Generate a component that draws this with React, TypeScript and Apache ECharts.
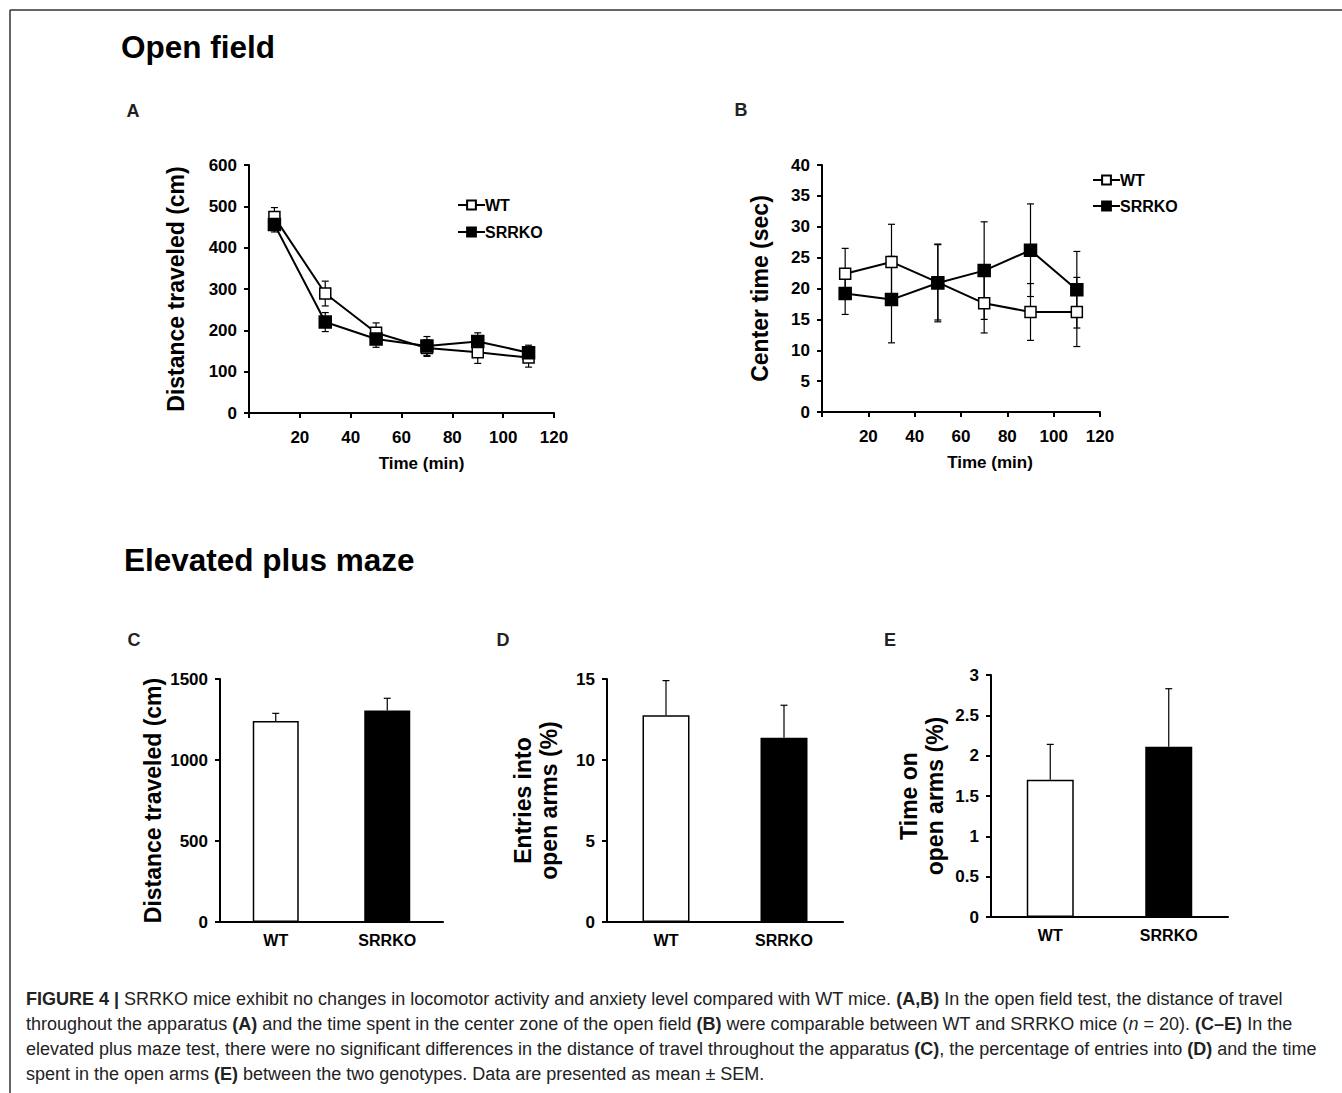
import React, { useEffect, useRef } from "react";
import * as echarts from "echarts";

// ---- Data ----
const timeMin = [10, 30, 50, 70, 90, 110];
const distWT = [474, 289, 194, 157, 147, 134];
const distWTsem = [23, 30, 24, 20, 27, 23];
const distKO = [456, 220, 179, 162, 173, 146];
const distKOsem = [18, 23, 20, 23, 21, 18];

const centerWT = [22.4, 24.3, 21.0, 17.6, 16.2, 16.2];
const centerWTsem = [4.1, 6.1, 6.1, 4.8, 4.6, 5.6];
const centerKO = [19.2, 18.2, 20.9, 22.9, 26.2, 19.8];
const centerKOsem = [3.4, 7.0, 6.3, 7.9, 7.5, 6.2];

const genotypes = ["WT", "SRRKO"];
const epmDist = [1241, 1305];
const epmDistSem = [47, 76];
const epmEntries = [12.76, 11.38];
const epmEntriesSem = [2.14, 2.0];
const epmTime = [1.7, 2.11];
const epmTimeSem = [0.44, 0.72];

const captionLines = [
  "{b|FIGURE 4 |} SRRKO mice exhibit no changes in locomotor activity and anxiety level compared with WT mice. {b|(A,B)} In the open field test, the distance of travel",
  "throughout the apparatus {b|(A)} and the time spent in the center zone of the open field {b|(B)} were comparable between WT and SRRKO mice ({i|n} = 20). {b|(C–E)} In the",
  "elevated plus maze test, there were no significant differences in the distance of travel throughout the apparatus {b|(C)}, the percentage of entries into {b|(D)} and the time",
  "spent in the open arms {b|(E)} between the two genotypes. Data are presented as mean ± SEM.",
];

const FONT = "Liberation Sans, Arial, Helvetica, sans-serif";
const CAP = 18;

function App() {
  const ref = useRef<HTMLDivElement>(null);

  useEffect(() => {
    if (!ref.current) return;
    const chart = echarts.init(ref.current, null, { renderer: "svg" });

    const axisLine = { lineStyle: { color: "#000", width: 2 } };
    const axisTick = { length: 5, lineStyle: { color: "#000", width: 2 } };
    const tickLabel = { fontSize: 17, fontWeight: "bold", color: "#000", fontFamily: FONT };
    const nameStyle = (size: number, extra: any = {}) => ({
      fontSize: size,
      fontWeight: "bold",
      color: "#000",
      fontFamily: FONT,
      lineHeight: 26,
      ...extra,
    });

    const lineErr = (gridIdx: number, means: number[], sems: number[]) => ({
      type: "custom",
      xAxisIndex: gridIdx,
      yAxisIndex: gridIdx,
      z: 1,
      silent: true,
      data: timeMin.map((t, i) => [t, means[i] - sems[i], means[i] + sems[i]]),
      encode: { x: 0, y: [1, 2] },
      renderItem: (params: any, api: any) => {
        const x = api.value(0);
        const lo = api.coord([x, api.value(1)]);
        const hi = api.coord([x, api.value(2)]);
        const hw = 3.5;
        const st = { stroke: "#000", lineWidth: 1.2 };
        return {
          type: "group",
          children: [
            { type: "line", shape: { x1: lo[0], y1: lo[1], x2: hi[0], y2: hi[1] }, style: st },
            { type: "line", shape: { x1: hi[0] - hw, y1: hi[1], x2: hi[0] + hw, y2: hi[1] }, style: st },
            { type: "line", shape: { x1: lo[0] - hw, y1: lo[1], x2: lo[0] + hw, y2: lo[1] }, style: st },
          ],
        };
      },
    });

    const barErr = (gridIdx: number, means: number[], sems: number[]) => ({
      type: "custom",
      xAxisIndex: gridIdx,
      yAxisIndex: gridIdx,
      z: 3,
      silent: true,
      data: means.map((m, i) => [i, m, m + sems[i]]),
      encode: { x: 0, y: [1, 2] },
      renderItem: (params: any, api: any) => {
        const x = api.value(0);
        const lo = api.coord([x, api.value(1)]);
        const hi = api.coord([x, api.value(2)]);
        const hw = 3.5;
        const st = { stroke: "#000", lineWidth: 1.2 };
        return {
          type: "group",
          children: [
            { type: "line", shape: { x1: lo[0], y1: lo[1], x2: hi[0], y2: hi[1] }, style: st },
            { type: "line", shape: { x1: hi[0] - hw, y1: hi[1], x2: hi[0] + hw, y2: hi[1] }, style: st },
          ],
        };
      },
    });

    const lineSeries = (gridIdx: number, name: string, vals: number[], filled: boolean) => ({
      type: "line",
      name,
      xAxisIndex: gridIdx,
      yAxisIndex: gridIdx,
      z: 2,
      data: timeMin.map((t, i) => [t, vals[i]]),
      symbol: "rect",
      symbolSize: filled ? 12 : 11,
      lineStyle: { color: "#000", width: 2 },
      itemStyle: { color: filled ? "#000" : "#fff", borderColor: "#000", borderWidth: 1.5 },
      emphasis: { disabled: true },
    });

    const barSeries = (gridIdx: number, vals: number[], width: number) => ({
      type: "bar",
      xAxisIndex: gridIdx,
      yAxisIndex: gridIdx,
      z: 2,
      barWidth: width,
      data: vals.map((v, i) => ({
        value: v,
        itemStyle: { color: i === 0 ? "#fff" : "#000", borderColor: "#000", borderWidth: 1.5 },
      })),
      emphasis: { disabled: true },
    });

    const valueX = (gridIdx: number, shift: number) => ({
      gridIndex: gridIdx,
      type: "value",
      min: 0,
      max: 120,
      interval: 20,
      axisLine: { ...axisLine, onZero: false },
      axisTick,
      splitLine: { show: false },
      axisLabel: { ...tickLabel, margin: 16, formatter: (v: number) => (v === 0 ? "" : String(v)) },
      name: "Time (min)",
      nameLocation: "middle",
      nameGap: 37,
      nameTextStyle: nameStyle(17, { padding: [0, 0, 0, shift * 2] }),
    });

    const valueY = (gridIdx: number, max: number, interval: number, name: string, gap: number, size: number) => ({
      gridIndex: gridIdx,
      type: "value",
      min: 0,
      max,
      interval,
      axisLine: { ...axisLine, show: true },
      axisTick: { ...axisTick, show: true },
      splitLine: { show: false },
      axisLabel: { ...tickLabel, margin: 12, formatter: (v: number) => String(v) },
      name,
      nameLocation: "middle",
      nameRotate: 90,
      nameGap: gap,
      nameTextStyle: nameStyle(size),
    });

    const catX = (gridIdx: number) => ({
      gridIndex: gridIdx,
      type: "category",
      data: genotypes,
      axisLine,
      axisTick: { ...axisTick, alignWithLabel: false },
      axisLabel: { ...tickLabel, fontSize: 16, margin: 10 },
    });

    const bigTitle = (text: string, x: number, y: number) => ({
      type: "text",
      x,
      y,
      style: { text, font: `bold 31.5px ${FONT}`, fill: "#000", textVerticalAlign: "middle" },
    });
    const letter = (text: string, x: number, y: number) => ({
      type: "text",
      x,
      y,
      style: { text, font: `bold 18px ${FONT}`, fill: "#222", textAlign: "center", textVerticalAlign: "middle" },
    });

    const legendText = { fontSize: 16, fontWeight: "bold", color: "#000", fontFamily: FONT, padding: [0, 0, 0, -5] };

    const option: any = {
      animation: false,
      backgroundColor: "#fff",
      textStyle: { fontFamily: FONT },
      grid: [
        { left: 249, top: 165, width: 305, height: 248 },
        { left: 822, top: 165, width: 278, height: 247 },
        { left: 220, top: 679, width: 223, height: 243 },
        { left: 607, top: 679, width: 236, height: 243 },
        { left: 991, top: 675, width: 237, height: 242 },
      ],
      xAxis: [valueX(0, 20), valueX(1, 29), catX(2), catX(3), catX(4)],
      yAxis: [
        valueY(0, 600, 100, "Distance traveled (cm)", 60, 23),
        valueY(1, 40, 5, "Center time (sec)", 49, 23),
        valueY(2, 1500, 500, "Distance traveled (cm)", 53, 23),
        valueY(3, 15, 5, "Entries into\nopen arms (%)", 45, 23),
        valueY(4, 3, 0.5, "Time on\nopen arms (%)", 43, 23),
      ],
      legend: [
        {
          data: ["WT", "SRRKO"],
          left: 452,
          top: 192,
          orient: "vertical",
          itemWidth: 27,
          itemHeight: 11,
          itemGap: 11,
          selectedMode: false,
          textStyle: legendText,
        },
        {
          data: ["WT", "SRRKO"],
          left: 1087,
          top: 167,
          orient: "vertical",
          itemWidth: 27,
          itemHeight: 11,
          itemGap: 10,
          selectedMode: false,
          textStyle: legendText,
        },
      ],
      series: [
        lineErr(0, distWT, distWTsem),
        lineErr(0, distKO, distKOsem),
        lineSeries(0, "WT", distWT, false),
        lineSeries(0, "SRRKO", distKO, true),
        lineErr(1, centerWT, centerWTsem),
        lineErr(1, centerKO, centerKOsem),
        lineSeries(1, "WT", centerWT, false),
        lineSeries(1, "SRRKO", centerKO, true),
        barSeries(2, epmDist, 46),
        barErr(2, epmDist, epmDistSem),
        barSeries(3, epmEntries, 47),
        barErr(3, epmEntries, epmEntriesSem),
        barSeries(4, epmTime, 47),
        barErr(4, epmTime, epmTimeSem),
      ],
      graphic: [
        { type: "line", shape: { x1: 10, y1: 10, x2: 1342, y2: 10 }, style: { stroke: "#333", lineWidth: 1.5 } },
        { type: "line", shape: { x1: 10, y1: 10, x2: 10, y2: 1093 }, style: { stroke: "#333", lineWidth: 1.5 } },
        bigTitle("Open field", 121, 47),
        bigTitle("Elevated plus maze", 124, 560),
        letter("A", 133, 111),
        letter("B", 741, 110),
        letter("C", 134, 640),
        letter("D", 503, 640),
        letter("E", 890, 640),
        ...captionLines.map((t, i) => ({
          type: "text",
          x: 26,
          y: 999 + i * 25,
          style: {
            text: t,
            font: `${CAP}px ${FONT}`,
            fill: "#222",
            textVerticalAlign: "middle",
            rich: {
              b: { fontWeight: "bold", fontSize: CAP, fontFamily: FONT, fill: "#222" },
              i: { fontStyle: "italic", fontSize: CAP, fontFamily: FONT, fill: "#222" },
            },
          },
        })),
      ],
    };

    chart.setOption(option);
    return () => chart.dispose();
  }, []);

  return (
    <div
      ref={ref}
      style={{ position: "absolute", left: 0, top: 0, width: 1342, height: 1093, background: "#fff" }}
    />
  );
}

export default App;
